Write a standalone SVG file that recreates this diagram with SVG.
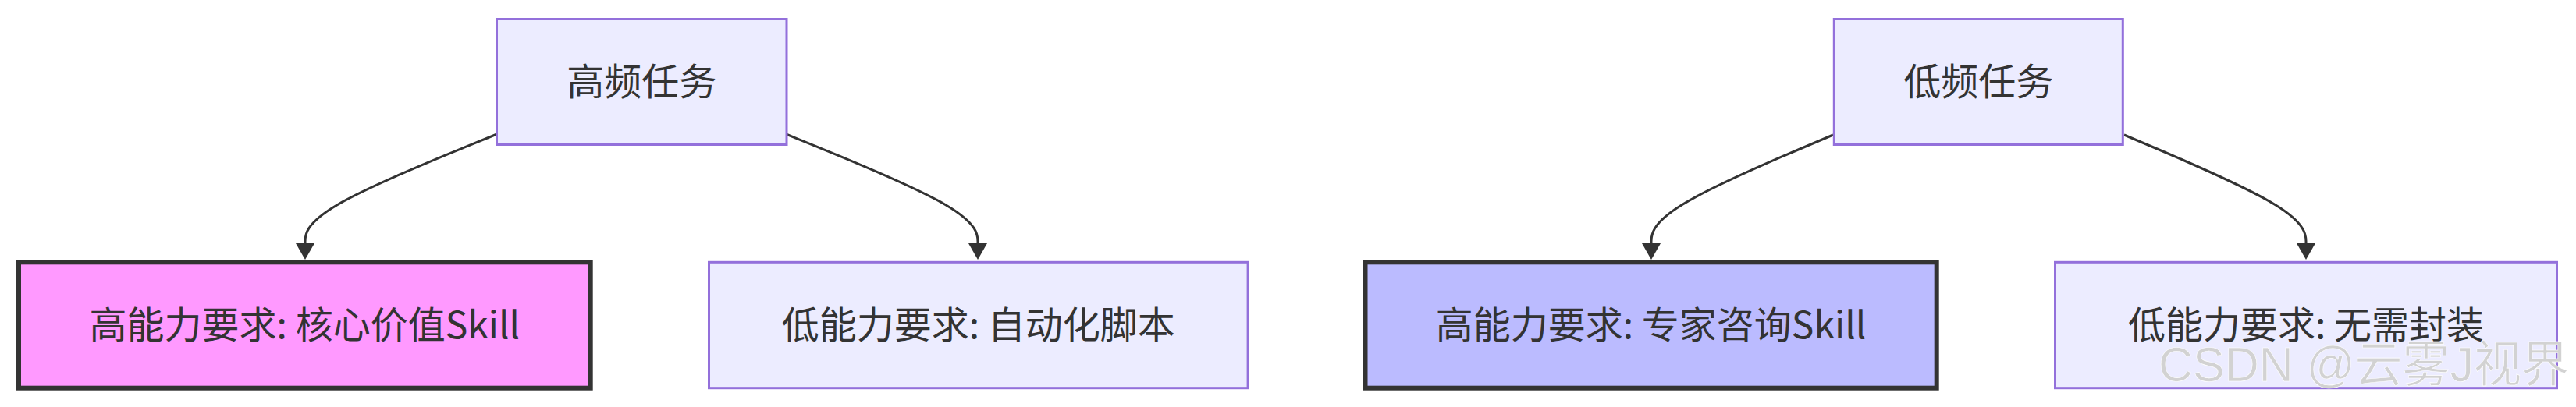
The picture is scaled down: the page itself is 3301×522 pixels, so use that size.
<svg xmlns="http://www.w3.org/2000/svg" width="3301" height="522" viewBox="0 0 3301 522">
<style>
.bg{fill:#ffffff}
.node rect{fill:#ECECFF;stroke:#9370DB;stroke-width:3}
.node.hi rect{fill:#ff99ff;stroke:#333333;stroke-width:6}
.node.mid rect{fill:#bbbbff;stroke:#333333;stroke-width:6}
.node text{font-family:"Noto Sans CJK SC","Noto Sans",sans-serif;font-size:48px;fill:#333333;text-anchor:middle}
.edge{fill:none;stroke:#333333;stroke-width:3}
.wm{font-family:"Liberation Sans","Noto Sans CJK SC",sans-serif;font-size:63px;fill:#d2d2d2;stroke:#ffffff;stroke-width:0.6}
</style>
<defs>
<marker id="arrow" markerUnits="userSpaceOnUse" markerWidth="22" markerHeight="24" refX="5" refY="12" orient="auto">
<path d="M0,0 L21,12 L0,24 z" fill="#333333"/>
</marker>
</defs>
<rect class="bg" x="0" y="0" width="3301" height="522"/>
<g id="edges">
<path class="edge" marker-end="url(#arrow)" d="M635.6,172.5 L594.83,189.08 C554.07,205.67 472.53,238.83 431.77,262.92 C391,287 391,302 391,309.5 L391,317"/>
<path class="edge" marker-end="url(#arrow)" d="M1008.4,172.5 L1049.17,189.08 C1089.93,205.67 1171.47,238.83 1212.23,262.92 C1253,287 1253,302 1253,309.5 L1253,317"/>
<path class="edge" marker-end="url(#arrow)" d="M2349,173 L2310.17,189.5 C2271.33,206 2193.67,239 2154.83,263 C2116,287 2116,302 2116,309.5 L2116,317"/>
<path class="edge" marker-end="url(#arrow)" d="M2722,173 L2760.83,189.5 C2799.67,206 2877.33,239 2916.17,263 C2955,287 2955,302 2955,309.5 L2955,317"/>
</g>
<g id="node-high-freq" class="node">
<rect x="636.5" y="24.5" width="371.5" height="161"/>
<text x="822.25" y="121.5">高频任务</text>
</g>
<g id="node-low-freq" class="node">
<rect x="2350.3" y="24.5" width="370" height="161"/>
<text x="2535.3" y="121.5">低频任务</text>
</g>
<g id="node-core-skill" class="node hi">
<rect x="24" y="336.3" width="732.7" height="161.4"/>
<text x="390.4" y="434">高能力要求: 核心价值Skill</text>
</g>
<g id="node-auto-script" class="node">
<rect x="908.5" y="336.3" width="690.6" height="161.4"/>
<text x="1253.8" y="434">低能力要求: 自动化脚本</text>
</g>
<g id="node-expert-skill" class="node mid">
<rect x="1749.5" y="336.3" width="732.2" height="161.4"/>
<text x="2115.6" y="434">高能力要求: 专家咨询Skill</text>
</g>
<g id="node-no-wrap" class="node">
<rect x="2633.5" y="336.3" width="643" height="161.4"/>
<text x="2955" y="434">低能力要求: 无需封装</text>
</g>
<text class="wm" x="2766" y="488.5" textLength="526" lengthAdjust="spacingAndGlyphs">CSDN @云雾J视界</text>
</svg>
